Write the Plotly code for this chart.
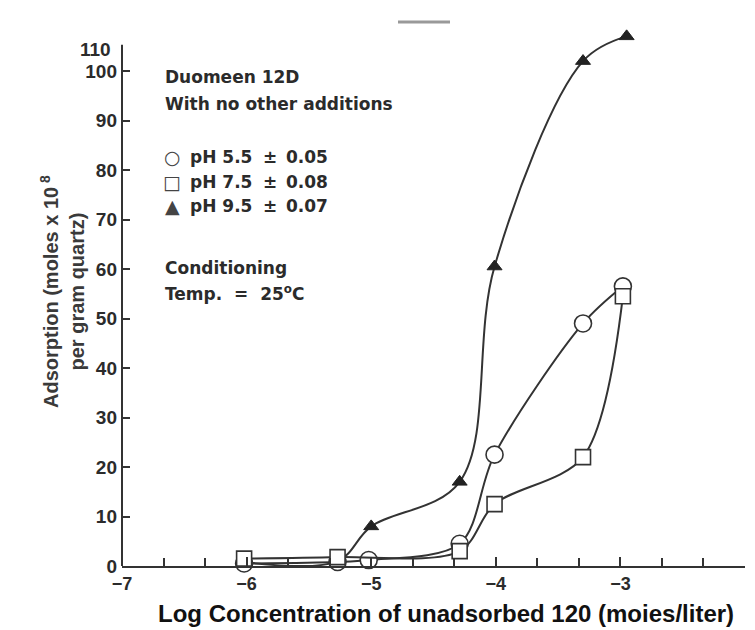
import plotly.graph_objects as go

# Data (log concentration, adsorption x 1e8 mol/g)
x_ph55 = [-6.02, -5.27, -5.02, -4.29, -4.01, -3.30, -2.98]
y_ph55 = [0.5, 0.8, 1.2, 4.5, 22.5, 49.0, 56.5]

x_ph75 = [-6.02, -5.27, -4.29, -4.01, -3.30, -2.98]
y_ph75 = [1.5, 1.8, 3.0, 12.5, 22.0, 54.5]

x_ph95 = [-6.02, -5.27, -5.00, -4.29, -4.01, -3.30, -2.95]
y_ph95 = [0.8, 1.0, 8.0, 17.0, 60.5, 102.0, 107.0]

x_ticks = [-7, -6, -5, -4, -3, -2]
x_ticktext = ["\u22127", "\u22126", "\u22125", "\u22124", "\u22123", "\u22122"]
y_ticks = [0, 10, 20, 30, 40, 50, 60, 70, 80, 90, 100]
y_axis_top = 105.3
y_top_label = "110"

LINE = "#333333"
TXT = "#2b2b2b"
FONT = "Liberation Sans"
NOTEFONT = "DejaVu Sans"

L, R, B = 122, 745, 566
PXU = 4.95                     # pixels per y unit
T = 27
H = B - T
W = R - L
YMAX = H / PXU

def px(xp):
    return (xp - L) / W

def py(yp):
    return (B - yp) / H

fig = go.Figure()
fig.add_trace(go.Scatter(x=x_ph95, y=y_ph95, mode="lines+markers",
                         line=dict(color=LINE, width=2, shape="spline", smoothing=1.0),
                         marker=dict(symbol="triangle-up", size=13, color="#222",
                                     line=dict(color="#222", width=1)),
                         cliponaxis=False, showlegend=False))
fig.add_trace(go.Scatter(x=x_ph55, y=y_ph55, mode="lines+markers",
                         line=dict(color=LINE, width=2, shape="spline", smoothing=0.9),
                         marker=dict(symbol="circle", size=17, color="white",
                                     line=dict(color=LINE, width=1.6)),
                         cliponaxis=False, showlegend=False))
fig.add_trace(go.Scatter(x=x_ph75, y=y_ph75, mode="lines+markers",
                         line=dict(color=LINE, width=2, shape="spline", smoothing=0.9),
                         marker=dict(symbol="square", size=15, color="white",
                                     line=dict(color=LINE, width=1.6)),
                         cliponaxis=False, showlegend=False))

def note(text, xp, yp, size=17, family=NOTEFONT, color=TXT, anchor="left"):
    fig.add_annotation(x=px(xp), y=py(yp), xref="paper", yref="paper",
                       text=text, showarrow=False, xanchor=anchor, yanchor="middle",
                       font=dict(family=family, size=size, color=color, weight="bold"))

note("Duomeen 12D", 163, 77)
note("With no other additions", 163, 104)
rows = [("\u25CB", "pH 5.5", "0.05", 157), ("\u25A1", "pH 7.5", "0.08", 182),
        ("\u25B2", "pH 9.5", "0.07", 206)]
for sym, lab, err, yp in rows:
    note(sym, 172, yp, size=19, family="DejaVu Sans", color="#444", anchor="center")
    note(lab, 188, yp)
    note("\u00B1", 261, yp, size=17)
    note(err, 284, yp)
note("Conditioning", 163, 268)
note("Temp.  =  25<sup>o</sup>C", 163, 293)

# y-axis line (ends below the top label) and top label
fig.add_shape(type="line", xref="paper", yref="y", x0=0, x1=0, y0=0, y1=y_axis_top,
              line=dict(color=LINE, width=2))
fig.add_annotation(x=0, y=104.4, xref="paper", yref="y", text=y_top_label, showarrow=False,
                   xanchor="right", yanchor="middle", xshift=-9,
                   font=dict(family=FONT, size=19, color=TXT, weight="bold"))

# scan mark near the top
fig.add_shape(type="line", xref="paper", yref="paper", x0=px(398), x1=px(450),
              y0=py(22), y1=py(22), line=dict(color="#999", width=3))

# Y title
fig.add_annotation(x=px(62), y=py(292), xref="paper", yref="paper",
                   text="Adsorption (moles x 10<sup> 8</sup><br>per gram quartz)",
                   showarrow=False, textangle=-90, xanchor="center", yanchor="middle",
                   font=dict(family=FONT, size=20, color="#3a3a3a", weight="bold"))

# X title
fig.add_annotation(x=px(446), y=py(613), xref="paper", yref="paper",
                   text="Log Concentration of unadsorbed 120 (moies/liter)",
                   showarrow=False, xanchor="center", yanchor="middle",
                   font=dict(family=FONT, size=24, color="#111", weight="bold"))

fig.update_layout(
    width=755, height=630,
    margin=dict(l=L, r=755 - R, t=T, b=630 - B),
    paper_bgcolor="white", plot_bgcolor="white",
    xaxis=dict(range=[-7, -2], tickvals=x_ticks, ticktext=x_ticktext,
               ticks="inside", ticklen=9, tickwidth=2, tickcolor=LINE,
               showline=True, linecolor=LINE, linewidth=2, showgrid=False, zeroline=False,
               minor=dict(dtick=1/3, tick0=-7, ticks="inside", ticklen=8, tickwidth=1.5,
                          tickcolor=LINE, showgrid=False),
               ticklabelstandoff=0,
               tickfont=dict(family=FONT, size=18, color=TXT, weight="bold")),
    yaxis=dict(range=[0, YMAX], tickvals=y_ticks,
               ticks="inside", ticklen=8, tickwidth=2, tickcolor=LINE,
               showline=False, showgrid=False, zeroline=False,
               ticklabelstandoff=4,
               tickfont=dict(family=FONT, size=19, color=TXT, weight="bold")),
)

fig.write_html("out.html")
